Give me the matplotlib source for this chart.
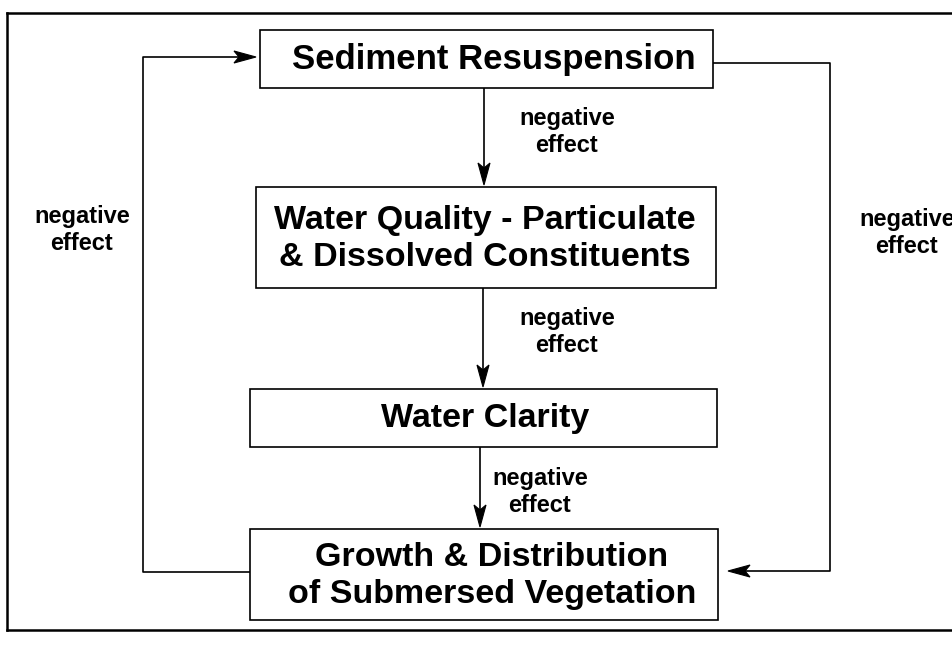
import matplotlib
matplotlib.use("Agg")
import matplotlib.pyplot as plt
from matplotlib.patches import Rectangle, Polygon

# ---- content ----
node_labels = [
    "Sediment Resuspension",
    "Water Quality - Particulate\n& Dissolved Constituents",
    "Water Clarity",
    "Growth & Distribution\nof Submersed Vegetation",
]
edge_label = "negative\neffect"
edge_labels = [edge_label] * 5

# ---- layout (pixel space, y down) ----
boxes = [  # x0, y0, x1, y1
    (260, 30, 713, 88),
    (256, 187, 716, 288),
    (250, 389, 717, 447),
    (250, 529, 718, 620),
]
text_cx = [494, 485, 485, 492]
node_fs = [25, 24.5, 24.5, 24.5]
FONT = ["Liberation Sans", "DejaVu Sans"]

fig = plt.figure(figsize=(9.53, 6.51), dpi=100)
ax = fig.add_axes([0, 0, 1, 1])
ax.set_xlim(0, 953)
ax.set_ylim(651, 0)
ax.axis("off")

# outer frame
ax.plot([7, 953], [13, 13], color="black", lw=1.8)
ax.plot([7, 7], [13, 630], color="black", lw=1.8)
ax.plot([7, 953], [630, 630], color="black", lw=1.8)

for (x0, y0, x1, y1), lab, cx, fs in zip(boxes, node_labels, text_cx, node_fs):
    ax.add_patch(Rectangle((x0, y0), x1 - x0, y1 - y0, fill=False,
                           ec="black", lw=1.2))
    ax.text(cx, (y0 + y1) / 2 + 1, lab, ha="center", va="center",
            fontsize=fs, fontweight="bold", family=FONT, linespacing=1.25)


def head(tip, direction, L=22, W=6):
    tx, ty = tip
    dx, dy = direction
    bx, by = tx - dx * L, ty - dy * L
    px, py = -dy, dx
    poly = [(tx, ty), (bx + px * W, by + py * W), (bx + dx * 5, by + dy * 5),
            (bx - px * W, by - py * W)]
    ax.add_patch(Polygon(poly, closed=True, fc="black", ec="black", lw=0.8))


def line(xs, ys):
    ax.plot(xs, ys, color="black", lw=1.2, solid_capstyle="butt")


# vertical arrows between boxes
vx = [484, 483, 480]
for i, x in enumerate(vx):
    y_start = boxes[i][3]
    y_end = boxes[i + 1][1]
    line([x, x], [y_start, y_end - 15])
    head((x, y_end - 2), (0, 1))

# left feedback loop
line([250, 143, 143, 240], [572, 572, 57, 57])
head((256, 57), (1, 0))
# right feedback loop
line([713, 830, 830, 740], [63, 63, 571, 571])
head((728, 571), (-1, 0))

# edge labels
label_pos = [(567, 132), (567, 332), (540, 492), (82, 230), (907, 233)]
for (x, y), lab in zip(label_pos, edge_labels):
    ax.text(x, y, lab, ha="center", va="center", fontsize=17,
            fontweight="bold", family=FONT, linespacing=1.22)

fig.savefig("out.png", dpi=100)
